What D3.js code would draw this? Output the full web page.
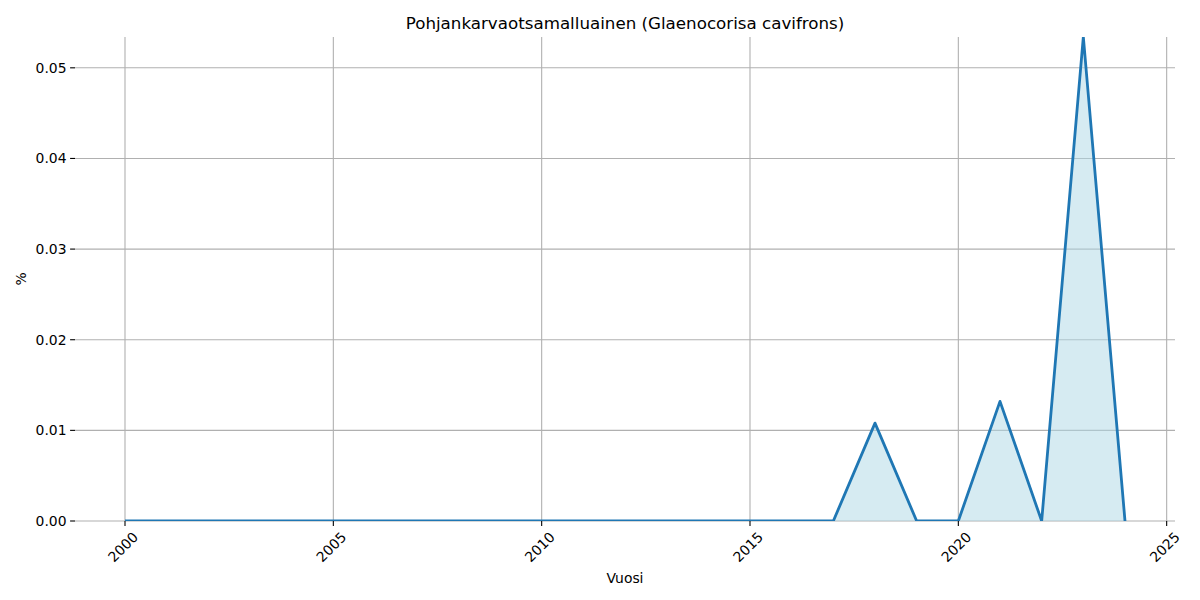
<!DOCTYPE html>
<html><head><meta charset="utf-8">
<script src="https://cdn.jsdelivr.net/npm/d3@7"></script>
<style>body{margin:0;background:#fff}svg{display:block;font-family:"DejaVu Sans",sans-serif}</style>
</head><body><svg id="c" width="1200" height="600"></svg>
<script>
const years = [2000,2001,2002,2003,2004,2005,2006,2007,2008,2009,2010,2011,2012,2013,2014,2015,2016,2017,2018,2019,2020,2021,2022,2023,2024];
const values = [0,0,0,0,0,0,0,0,0,0,0,0,0,0,0,0,0,0,0.0108,0,0,0.0132,0,0.0534,0];
const xTicks = [2000,2005,2010,2015,2020,2025];
const yTicks = [0,0.01,0.02,0.03,0.04,0.05];
const title = "Pohjankarvaotsamalluainen (Glaenocorisa cavifrons)";

const L=75,R=1175,T=37,B=521;
const svg=d3.select("#c");
const x=d3.scaleLinear().domain([1998.8,2025.2]).range([L,R]);
const y=d3.scaleLinear().domain([0,d3.max(values)]).range([B,T]);
const data=years.map((d,i)=>({x:d,y:values[i]}));

svg.append("defs").append("clipPath").attr("id","clip").append("rect")
  .attr("x",L).attr("y",T).attr("width",R-L).attr("height",B-T);

// grid
const g=svg.append("g");
g.selectAll(".vx").data(xTicks).join("line").attr("x1",d=>x(d)).attr("x2",d=>x(d))
  .attr("y1",T).attr("y2",B).attr("stroke","#b0b0b0").attr("stroke-width",1.1);
g.selectAll(".hy").data(yTicks).join("line").attr("y1",d=>y(d)).attr("y2",d=>y(d))
  .attr("x1",L).attr("x2",R).attr("stroke","#b0b0b0").attr("stroke-width",1.1);

const plot=svg.append("g").attr("clip-path","url(#clip)");
plot.append("path").datum(data)
  .attr("d",d3.area().x(d=>x(d.x)).y0(y(0)).y1(d=>y(d.y)))
  .attr("fill","#add8e6").attr("fill-opacity",0.5);
plot.append("path").datum(data)
  .attr("d",d3.line().x(d=>x(d.x)).y(d=>y(d.y)))
  .attr("fill","none").attr("stroke","#1f77b4").attr("stroke-width",2.8).attr("stroke-linejoin","round");

// ticks
svg.selectAll(".xt").data(xTicks).join("line").attr("x1",d=>x(d)).attr("x2",d=>x(d))
  .attr("y1",B).attr("y2",B+4.9).attr("stroke","#000").attr("stroke-width",1.1);
svg.selectAll(".xl").data(xTicks).join("text")
  .attr("transform",d=>`translate(${x(d)-2},${B+26}) rotate(-45)`)
  .attr("text-anchor","middle").attr("dominant-baseline","central")
  .attr("font-size",13.9).attr("fill","#000").text(d=>d);
svg.selectAll(".yt").data(yTicks).join("line").attr("x1",L-4.9).attr("x2",L)
  .attr("y1",d=>y(d)).attr("y2",d=>y(d)).attr("stroke","#000").attr("stroke-width",1.1);
svg.selectAll(".yl").data(yTicks).join("text")
  .attr("x",L-8.5).attr("y",d=>y(d)).attr("text-anchor","end").attr("dominant-baseline","central")
  .attr("font-size",13.9).attr("fill","#000").text(d=>d.toFixed(2));

svg.append("text").attr("x",(L+R)/2).attr("y",23).attr("text-anchor","middle").attr("dominant-baseline","central")
  .attr("font-size",16.7).text(title);
svg.append("text").attr("x",(L+R)/2).attr("y",578).attr("text-anchor","middle").attr("dominant-baseline","central")
  .attr("font-size",13.9).text("Vuosi");
svg.append("text").attr("transform",`translate(21,${(T+B)/2}) rotate(-90)`).attr("text-anchor","middle").attr("dominant-baseline","central")
  .attr("font-size",13.9).text("%");
</script></body></html>
